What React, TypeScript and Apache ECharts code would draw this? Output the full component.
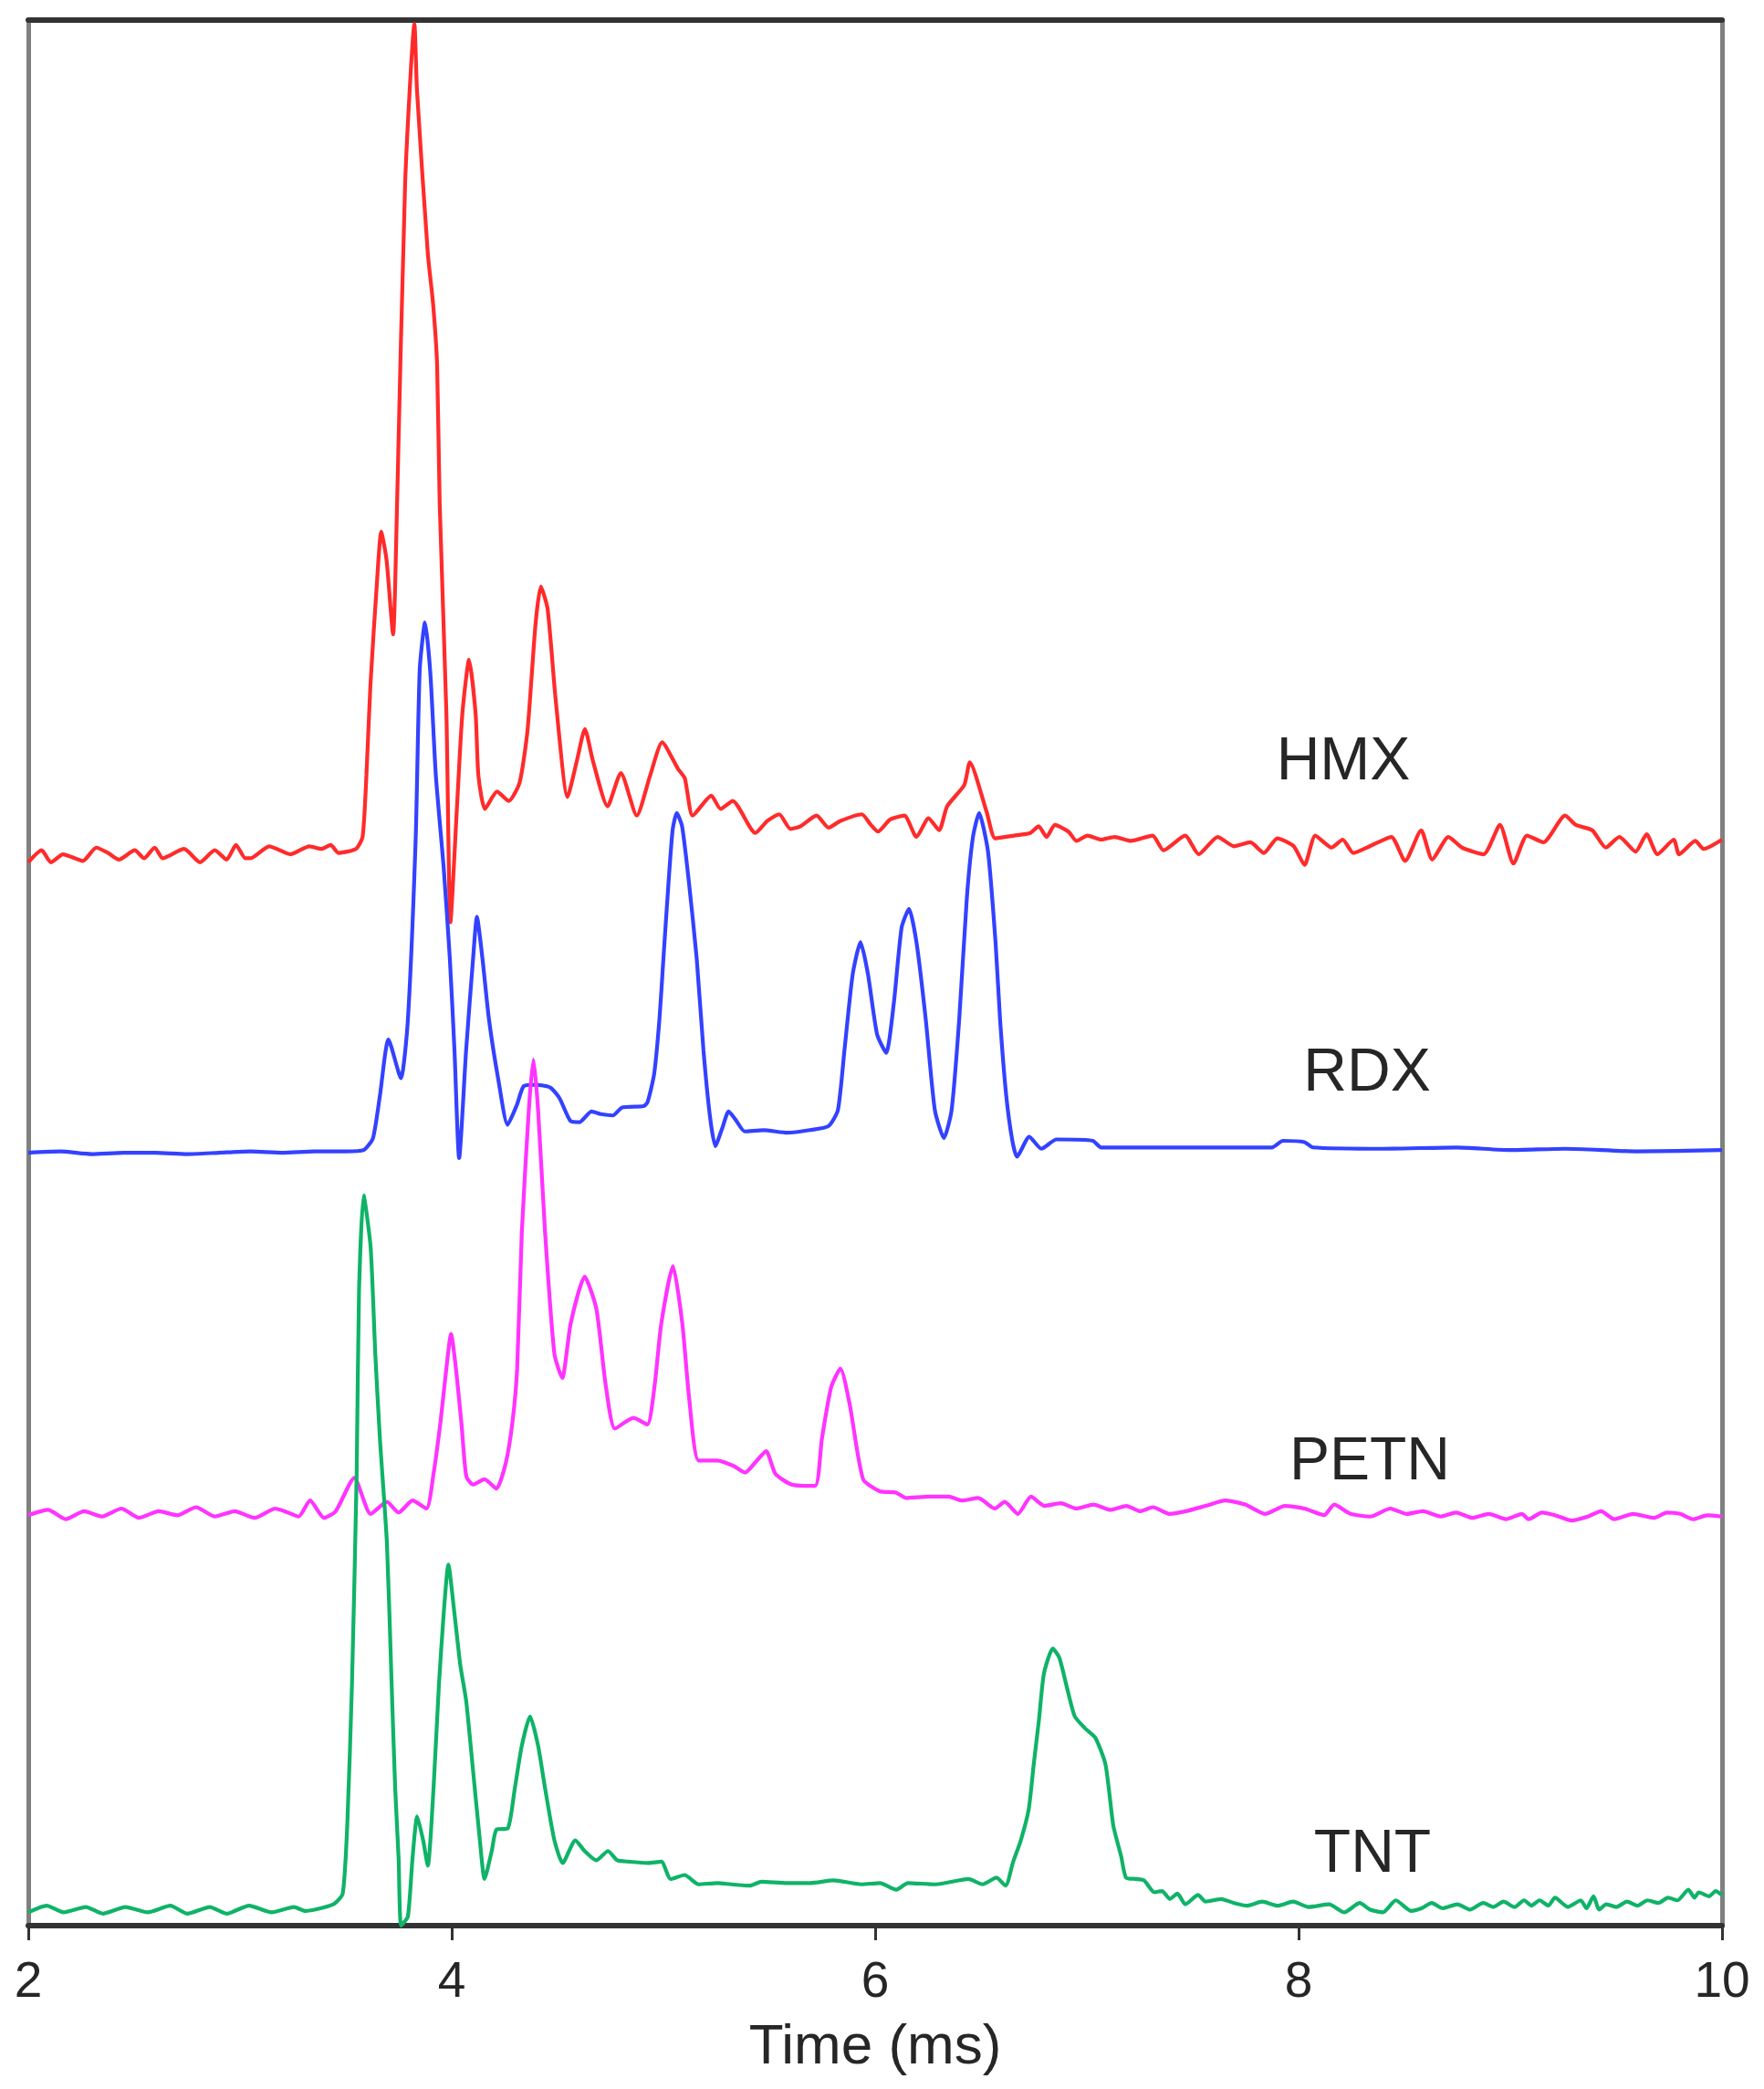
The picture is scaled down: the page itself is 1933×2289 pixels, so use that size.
import React, { useEffect, useRef } from 'react';
import * as echarts from 'echarts';

// Time axis (ms)
const xMin = 2;
const xMax = 10;
const xStep = 2;
// Intensity in arbitrary units (traces are offset vertically)
const yMin = 0;
const yMax = 1430;

const seriesNames = ['HMX', 'RDX', 'PETN', 'TNT'];

const hmx: [number, number][] = [
  [2.0, 798], [2.063, 807], [2.107, 798], [2.164, 804], [2.258, 799], [2.321, 809], [2.377, 805], [2.428, 800],
  [2.503, 807], [2.547, 801], [2.597, 809], [2.635, 801], [2.736, 808], [2.811, 798], [2.881, 807], [2.937, 800],
  [2.981, 811], [3.025, 801], [3.05, 801], [3.138, 810], [3.239, 804], [3.327, 810], [3.384, 808], [3.428, 811],
  [3.465, 805], [3.547, 808], [3.579, 817], [3.597, 863], [3.616, 931], [3.648, 1011], [3.667, 1046], [3.692, 1025],
  [3.723, 969], [3.742, 1068], [3.78, 1308], [3.824, 1427], [3.836, 1377], [3.887, 1255], [3.912, 1217], [3.931, 1171],
  [3.943, 1068], [3.975, 909], [3.994, 753], [4.025, 840], [4.05, 909], [4.082, 950], [4.113, 909], [4.126, 863],
  [4.157, 838], [4.214, 851], [4.27, 844], [4.321, 858], [4.358, 897], [4.396, 977], [4.421, 1005], [4.453, 988],
  [4.491, 920], [4.547, 847], [4.591, 874], [4.629, 898], [4.667, 874], [4.736, 840], [4.799, 865], [4.874, 833],
  [4.937, 863], [4.994, 888], [5.069, 868], [5.101, 861], [5.138, 833], [5.226, 848], [5.27, 838], [5.327, 844],
  [5.434, 820], [5.49, 829], [5.547, 834], [5.6, 823], [5.648, 825], [5.723, 833], [5.78, 824], [5.836, 829],
  [5.937, 834], [5.98, 826], [6.013, 821], [6.07, 830], [6.138, 833], [6.195, 817], [6.252, 831], [6.302, 822],
  [6.34, 840], [6.421, 856], [6.447, 873], [6.528, 835], [6.567, 816],
  [6.656, 818], [6.733, 820], [6.772, 825], [6.81, 817], [6.849, 826], [6.913, 821], [6.951, 814], [7.003, 818],
  [7.067, 815], [7.131, 817], [7.208, 814], [7.31, 818], [7.362, 807], [7.464, 818], [7.528, 804], [7.618, 817],
  [7.695, 810], [7.772, 813], [7.836, 805], [7.9, 816], [7.977, 810], [8.028, 796], [8.079, 818], [8.156, 809],
  [8.208, 815], [8.259, 805], [8.336, 810], [8.438, 817], [8.503, 799], [8.579, 822], [8.631, 800], [8.708, 817],
  [8.772, 809], [8.874, 804], [8.951, 826], [9.015, 797], [9.079, 818], [9.156, 813], [9.259, 833], [9.31, 826],
  [9.387, 822], [9.451, 809], [9.515, 817], [9.592, 806], [9.644, 819], [9.695, 804], [9.772, 815], [9.797, 804],
  [9.874, 814], [9.913, 808], [10.0, 815],
];

const rdx: [number, number][] = [
  [2.0, 580], [2.15, 581], [2.3, 579], [2.45, 580], [2.6, 580], [2.75, 579], [2.9, 580], [3.05, 581], [3.2, 580],
  [3.35, 581], [3.5, 581], [3.584, 582], [3.628, 591], [3.661, 623], [3.701, 665], [3.76, 636], [3.793, 680],
  [3.83, 817], [3.849, 943], [3.874, 978], [3.899, 940], [3.925, 863], [3.962, 794], [3.991, 726], [4.013, 657],
  [4.035, 576], [4.068, 657], [4.101, 726], [4.119, 757], [4.145, 726], [4.176, 680], [4.22, 635], [4.264, 601],
  [4.308, 616], [4.34, 630], [4.396, 631], [4.465, 629], [4.509, 621], [4.56, 604], [4.604, 603], [4.66, 611],
  [4.704, 609], [4.761, 608], [4.805, 614], [4.906, 615], [4.925, 618], [4.956, 639], [4.981, 680], [5.0, 726],
  [5.025, 785], [5.044, 823], [5.063, 835], [5.088, 825], [5.119, 785], [5.157, 726], [5.189, 657], [5.22, 607],
  [5.245, 585], [5.277, 598], [5.308, 611], [5.34, 605], [5.384, 596], [5.472, 597], [5.585, 595], [5.692, 597],
  [5.78, 600], [5.824, 612], [5.855, 657], [5.894, 714], [5.931, 738], [5.966, 714], [6.009, 669], [6.052, 655],
  [6.088, 692], [6.125, 749], [6.16, 763], [6.196, 737], [6.239, 680], [6.282, 612], [6.325, 591], [6.361, 612],
  [6.397, 680], [6.433, 771], [6.462, 817], [6.491, 835], [6.533, 806], [6.569, 737], [6.59, 680], [6.619, 623],
  [6.648, 589], [6.67, 577], [6.728, 592], [6.785, 583], [6.857, 590], [7.028, 589], [7.067, 584], [7.5, 584],
  [7.874, 584], [7.926, 589], [8.028, 588], [8.067, 584], [8.4, 583], [8.746, 584], [9.0, 582], [9.259, 583],
  [9.6, 581], [10.0, 582],
];

const petn: [number, number][] = [
  [2.0, 308], [2.094, 312], [2.176, 305], [2.264, 311], [2.346, 307], [2.44, 313], [2.522, 306], [2.616, 311],
  [2.704, 308], [2.792, 314], [2.881, 307], [2.975, 311], [3.069, 306], [3.167, 313], [3.211, 311], [3.277, 307],
  [3.331, 319], [3.397, 306], [3.452, 311], [3.54, 336], [3.617, 309], [3.694, 318], [3.749, 310], [3.815, 319],
  [3.881, 313], [3.914, 339], [3.947, 378], [3.969, 410], [3.997, 444], [4.022, 415], [4.047, 375], [4.069, 337],
  [4.101, 331], [4.155, 335], [4.211, 328], [4.255, 347], [4.287, 378], [4.309, 418], [4.331, 520], [4.364, 612],
  [4.386, 650], [4.408, 612], [4.441, 520], [4.485, 429], [4.522, 411], [4.562, 452], [4.628, 487], [4.683, 463],
  [4.727, 406], [4.771, 373], [4.858, 381], [4.924, 376], [4.958, 405], [4.99, 452], [5.045, 495], [5.089, 452],
  [5.122, 395], [5.166, 349], [5.254, 349], [5.331, 345], [5.386, 340], [5.441, 349], [5.485, 356], [5.529, 339],
  [5.606, 331], [5.716, 330], [5.748, 365], [5.792, 404], [5.836, 418], [5.88, 391], [5.943, 335], [6.021, 326],
  [6.098, 325], [6.145, 321], [6.254, 322], [6.347, 322], [6.409, 319], [6.487, 321], [6.565, 313], [6.612, 318],
  [6.674, 309], [6.736, 322], [6.799, 315], [6.877, 317], [6.95, 313], [7.032, 316], [7.11, 312], [7.187, 315],
  [7.25, 311], [7.312, 314], [7.39, 309], [7.468, 311], [7.561, 315], [7.655, 319], [7.748, 316], [7.841, 309],
  [7.935, 315], [8.028, 313], [8.121, 308], [8.168, 316], [8.246, 309], [8.339, 307], [8.433, 313], [8.51, 309],
  [8.588, 311], [8.67, 307], [8.744, 310], [8.82, 306], [8.899, 309], [8.98, 305], [9.055, 309], [9.086, 305],
  [9.15, 310], [9.21, 308], [9.29, 304], [9.366, 307], [9.429, 311], [9.491, 305], [9.58, 309], [9.678, 306],
  [9.74, 310], [9.802, 309], [9.864, 305], [9.93, 308], [10.0, 307],
];

const tnt: [number, number][] = [
  [2.0, 10], [2.087, 15], [2.166, 10], [2.272, 14], [2.352, 9], [2.458, 14], [2.565, 10], [2.671, 15], [2.751, 9],
  [2.857, 14], [2.936, 9], [3.043, 15], [3.149, 10], [3.255, 14], [3.308, 11], [3.441, 16], [3.485, 24], [3.507, 77],
  [3.529, 182], [3.551, 339], [3.562, 475], [3.584, 548], [3.617, 509], [3.639, 429], [3.661, 365], [3.694, 287],
  [3.716, 182], [3.733, 103], [3.749, 51], [3.761, 0], [3.793, 7], [3.815, 51], [3.837, 82], [3.865, 64],
  [3.887, 45], [3.914, 103], [3.94, 182], [3.962, 234], [3.984, 271], [4.013, 234], [4.041, 195], [4.068, 169],
  [4.101, 116], [4.133, 64], [4.155, 35], [4.189, 56], [4.211, 72], [4.265, 73], [4.298, 103], [4.331, 135],
  [4.37, 157], [4.408, 135], [4.441, 103], [4.485, 64], [4.524, 47], [4.584, 64], [4.628, 56], [4.683, 49],
  [4.738, 56], [4.782, 49], [4.837, 48], [4.924, 47], [4.99, 48], [5.034, 35], [5.1, 38], [5.166, 31], [5.254, 32],
  [5.32, 31], [5.408, 30], [5.463, 33], [5.584, 32], [5.694, 32], [5.804, 34], [5.935, 31], [6.023, 32], [6.1, 27],
  [6.155, 32], [6.287, 31], [6.441, 35], [6.507, 31], [6.573, 36], [6.616, 30], [6.652, 48], [6.688, 64],
  [6.725, 87], [6.749, 121], [6.774, 155], [6.797, 189], [6.839, 208], [6.87, 201], [6.907, 178], [6.943, 157],
  [6.992, 148], [7.04, 141], [7.088, 121], [7.125, 75], [7.162, 52], [7.185, 36], [7.234, 35], [7.27, 34],
  [7.319, 25], [7.355, 26], [7.392, 20], [7.428, 24], [7.465, 16], [7.525, 23], [7.561, 18], [7.634, 20],
  [7.695, 17], [7.756, 15], [7.828, 18], [7.901, 15], [7.974, 18], [8.046, 14], [8.144, 16], [8.216, 10],
  [8.289, 17], [8.338, 12], [8.399, 10], [8.459, 19], [8.532, 11], [8.58, 13], [8.629, 17], [8.68, 13],
  [8.75, 16], [8.81, 12], [8.872, 17], [8.92, 14], [8.968, 18], [9.02, 14], [9.065, 19], [9.1, 15], [9.138, 19],
  [9.18, 15], [9.211, 21], [9.272, 14], [9.333, 19], [9.36, 13], [9.393, 22], [9.42, 12], [9.453, 16], [9.5, 14],
  [9.551, 18], [9.6, 15], [9.648, 19], [9.7, 17], [9.745, 21], [9.79, 19], [9.841, 27], [9.87, 21], [9.89, 25],
  [9.939, 22], [9.97, 26], [10.0, 23],
];

const seriesData = [hmx, rdx, petn, tnt];
const seriesColors = ['#ff2b2b', '#3342ff', '#ff33ff', '#0fb368'];
const labelPixels: [number, number][] = [
  [1472, 831],
  [1498, 1172],
  [1501, 1598],
  [1504, 2028],
];

const FONT = '"Liberation Sans", Arial, Helvetica, sans-serif';
const TEXT_COLOR = '#262626';

export default function App() {
  const ref = useRef<HTMLDivElement | null>(null);

  useEffect(() => {
    document.body.style.margin = '0';
    if (!ref.current) return;
    const chart = echarts.init(ref.current, undefined, { renderer: 'svg' });

    const frameAxisY = {
      type: 'value' as const,
      min: yMin,
      max: yMax,
      axisLine: { show: true, onZero: false, lineStyle: { color: '#808080', width: 5 } },
      axisTick: { show: false },
      axisLabel: { show: false },
      splitLine: { show: false },
    };

    const option = {
      animation: false,
      backgroundColor: '#ffffff',
      grid: { left: 31, right: 46, top: 22, bottom: 179, containLabel: false },
      xAxis: [
        {
          type: 'value',
          min: xMin,
          max: xMax,
          interval: xStep,
          position: 'bottom',
          axisLine: { show: true, onZero: false, lineStyle: { color: '#333333', width: 6 } },
          axisTick: { show: true, inside: false, length: 16, lineStyle: { color: '#333333', width: 3 } },
          axisLabel: {
            show: true,
            fontSize: 55,
            color: TEXT_COLOR,
            fontFamily: FONT,
            margin: 31,
            showMinLabel: true,
            showMaxLabel: true,
          },
          splitLine: { show: false },
          name: 'Time (ms)',
          nameLocation: 'middle',
          nameGap: 98,
          nameTextStyle: { fontSize: 62, color: TEXT_COLOR, fontFamily: FONT },
        },
        {
          type: 'value',
          min: xMin,
          max: xMax,
          interval: xStep,
          position: 'top',
          axisLine: { show: true, onZero: false, lineStyle: { color: '#333333', width: 6 } },
          axisTick: { show: false },
          axisLabel: { show: false },
          splitLine: { show: false },
        },
      ],
      yAxis: [
        { ...frameAxisY, position: 'left' },
        { ...frameAxisY, position: 'right' },
      ],
      series: seriesNames.map((name, i) => ({
        name,
        type: 'line',
        xAxisIndex: 0,
        yAxisIndex: 0,
        data: seriesData[i],
        showSymbol: false,
        symbol: 'none',
        smooth: 0.2,
        lineStyle: { color: seriesColors[i], width: 4.2 },
        z: 2,
      })),
      graphic: seriesNames.map((name, i) => ({
        type: 'text',
        x: labelPixels[i][0],
        y: labelPixels[i][1],
        z: 10,
        style: {
          text: name,
          fontSize: 66,
          fontFamily: FONT,
          fill: TEXT_COLOR,
          align: 'center',
          verticalAlign: 'middle',
          textAlign: 'center',
          textVerticalAlign: 'middle',
        },
      })),
    };

    chart.setOption(option as any);
    return () => {
      chart.dispose();
    };
  }, []);

  return (
    <div
      ref={ref}
      style={{ position: 'absolute', left: 0, top: 0, width: 1933, height: 2289, background: '#fff' }}
    />
  );
}
